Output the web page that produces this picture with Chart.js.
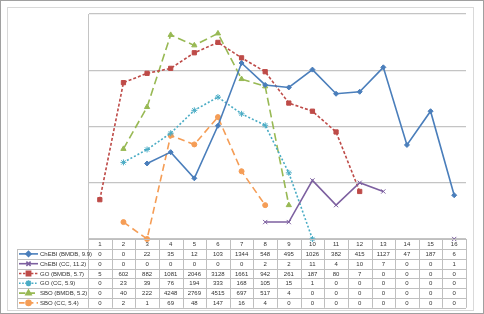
<!DOCTYPE html>
<html>
<head>
<meta charset="utf-8">
<script src="https://cdn.jsdelivr.net/npm/chart.js@4"></script>
<style>
  html, body { margin: 0; padding: 0; background: #fff; }
  #wrap { width: 484px; height: 314px; position: relative; }
</style>
</head>
<body>
<div id="wrap"><canvas id="lineChart" width="484" height="314"></canvas></div>
<script>
// data (zeros are not drawn on the log axis)
var categories = ['1','2','3','4','5','6','7','8','9','10','11','12','13','14','15','16'];
var chebiBmdb = [0,0,22,35,12,103,1344,548,495,1026,382,415,1127,47,187,6];
var chebiCc   = [0,0,0,0,0,0,0,2,2,11,4,10,7,0,0,1];
var goBmdb    = [5,602,882,1081,2046,3128,1661,942,261,187,80,7,0,0,0,0];
var goCc      = [0,23,39,76,194,333,168,105,15,1,0,0,0,0,0,0];
var sboBmdb   = [0,40,222,4248,2769,4515,697,517,4,0,0,0,0,0,0,0];
var sboCc     = [0,2,1,69,48,147,16,4,0,0,0,0,0,0,0,0];
var seriesNames = ['ChEBI (BMDB, 9.9)','ChEBI (CC, 11.2)','GO (BMDB, 5.7)','GO (CC, 5.9)','SBO (BMDB, 5.2)','SBO (CC, 5.4)'];
var yTicks = [1,10,100,1000,10000];

function noZero(arr) {
    return arr.map(function(v) { return v > 0 ? v : null; });
}

var styles = [
    {color: '#4a7ebb', dash: [], point: 'rectRot', r: 2.5},
    {color: '#7d60a0', dash: [], point: 'crossRot', r: 3},
    {color: '#be4b48', dash: [3, 2], point: 'rect', r: 3},
    {color: '#4aacc5', dash: [2, 2], point: 'star', r: 3},
    {color: '#98b954', dash: [8, 4], point: 'triangle', r: 3},
    {color: '#f59d56', dash: [7, 4], point: 'circle', r: 2.5}
];
var allSeries = [chebiBmdb, chebiCc, goBmdb, goCc, sboBmdb, sboCc];

var datasets = allSeries.map(function(s, i) {
    var st = styles[i];
    return {
        label: seriesNames[i],
        data: noZero(s),
        borderColor: st.color,
        backgroundColor: st.color,
        borderWidth: 1.6,
        borderDash: st.dash,
        pointStyle: st.point,
        pointRadius: st.r,
        pointBorderWidth: 1,
        tension: 0,
        spanGaps: false,
        clip: false
    };
});

// frame + data table under the plot
var tablePlugin = {
    id: 'dataTable',
    beforeDraw: function(chart) {
        var ctx = chart.ctx;
        ctx.save();
        ctx.fillStyle = '#fff';
        ctx.fillRect(0, 0, chart.width, chart.height);
        ctx.strokeStyle = '#a0a0a0';
        ctx.lineWidth = 1;
        ctx.strokeRect(0.5, 0.5, chart.width - 1, chart.height - 1);
        ctx.strokeStyle = '#d9d9d9';
        ctx.strokeRect(7.5, 7.5, 466, 303);
        ctx.restore();
    },
    afterDraw: function(chart) {
        var ctx = chart.ctx;
        var x = chart.scales.x;
        var area = chart.chartArea;
        var colW = (area.right - area.left) / categories.length;
        var top = area.bottom;
        var headH = 10;
        var rowH = 9.8;
        var legLeft = 17;
        var bottom = top + headH + rowH * allSeries.length;
        ctx.save();
        ctx.strokeStyle = '#bfbfbf';
        ctx.lineWidth = 1;
        ctx.beginPath();
        // horizontal lines
        ctx.moveTo(area.left, Math.round(top) + 0.5);
        ctx.lineTo(area.right, Math.round(top) + 0.5);
        for (var r = 0; r <= allSeries.length; r++) {
            var yy = Math.round(top + headH + r * rowH) + 0.5;
            ctx.moveTo(legLeft, yy);
            ctx.lineTo(area.right, yy);
        }
        // vertical lines
        for (var c = 0; c <= categories.length; c++) {
            var xx = Math.round(area.left + c * colW) + 0.5;
            ctx.moveTo(xx, top);
            ctx.lineTo(xx, bottom);
        }
        ctx.moveTo(legLeft + 0.5, top + headH);
        ctx.lineTo(legLeft + 0.5, bottom);
        ctx.stroke();

        ctx.fillStyle = '#333';
        ctx.font = '6px "Liberation Sans", Arial, sans-serif';
        ctx.textAlign = 'center';
        ctx.textBaseline = 'middle';
        categories.forEach(function(cat, i) {
            ctx.fillText(cat, x.getPixelForValue(i), top + headH / 2 + 0.5);
        });
        allSeries.forEach(function(s, r) {
            var cy = top + headH + r * rowH + rowH / 2 + 0.5;
            s.forEach(function(v, i) {
                ctx.fillText(String(v), x.getPixelForValue(i), cy);
            });
        });
        // legend keys
        ctx.textAlign = 'left';
        allSeries.forEach(function(s, r) {
            var cy = top + headH + r * rowH + rowH / 2;
            var st = styles[r];
            ctx.strokeStyle = st.color;
            ctx.lineWidth = 1.6;
            ctx.setLineDash(st.dash.length ? [st.dash[0] * 0.8, st.dash[1] * 0.8] : []);
            ctx.beginPath();
            ctx.moveTo(19, cy);
            ctx.lineTo(38, cy);
            ctx.stroke();
            ctx.setLineDash([]);
            ctx.fillStyle = st.color;
            Chart.helpers.drawPoint(ctx, {pointStyle: st.point, radius: st.r, borderWidth: 1}, 28.5, cy);
            ctx.fillStyle = '#333';
            ctx.fillText(seriesNames[r], 40, cy + 0.5);
        });
        ctx.restore();
    }
};

var ctxL = document.getElementById('lineChart').getContext('2d');
var lineChart = new Chart(ctxL, {
    type: 'line',
    data: {labels: categories, datasets: datasets},
    options: {
        responsive: false,
        animation: false,
        layout: {padding: {left: 88, right: 18, top: 14, bottom: 75}},
        plugins: {legend: {display: false}, tooltip: {enabled: false}},
        scales: {
            x: {
                type: 'category',
                offset: true,
                grid: {display: false},
                border: {display: false},
                ticks: {display: false},
                afterFit: function(scale) { scale.height = 0; }
            },
            y: {
                type: 'logarithmic',
                min: 1,
                max: 10000,
                afterBuildTicks: function(scale) {
                    scale.ticks = yTicks.map(function(v) { return {value: v}; });
                },
                grid: {color: '#c4c4c4', lineWidth: 1.2, drawTicks: false},
                border: {display: true, color: '#c4c4c4'},
                ticks: {display: false},
                afterFit: function(scale) { scale.width = 0; }
            }
        }
    },
    plugins: [tablePlugin]
});
</script>
</body>
</html>
